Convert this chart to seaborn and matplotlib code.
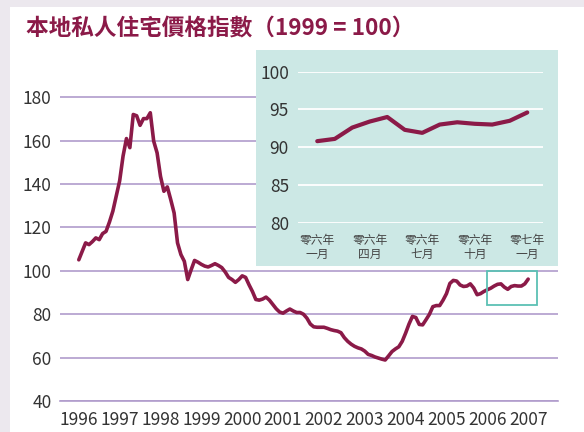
import matplotlib
matplotlib.use("Agg")
import matplotlib.pyplot as plt
from matplotlib.patches import Rectangle
import seaborn as sns
import numpy as np
import pandas as pd

# monthly index, Jan 1996 - Jan 2007
index_1996_2000 = [105.1, 109.0, 112.9, 112.1, 113.5, 115.2, 114.4, 117.2, 118.2, 122.5, 127.5, 134.5,
                   141.5, 152.9, 161.0, 156.8, 172.1, 171.5, 167.1, 170.2, 170.2, 172.9, 159.8, 154.4,
                   143.6, 136.7, 138.7, 132.9, 126.7, 112.9, 107.5, 104.4, 96.0, 100.5, 104.8, 104.0,
                   103.0, 102.2, 101.8, 102.5, 103.3, 102.5, 101.5, 99.5, 97.0, 96.0, 94.7, 96.0,
                   97.7, 97.0, 93.6, 90.5, 86.8, 86.5, 87.0, 87.9, 86.5, 84.5, 82.5, 81.0]
index_2001_2007 = [80.5, 81.5, 82.4, 81.5, 80.8, 80.8, 80.0, 78.2, 75.5, 74.2, 74.0, 74.0,
                   74.0, 73.5, 72.9, 72.5, 72.2, 71.5, 69.2, 67.5, 66.2, 65.2, 64.5, 64.0,
                   63.0, 61.5, 61.0, 60.3, 59.8, 59.3, 58.9, 60.8, 62.8, 64.0, 65.0, 67.5,
                   71.3, 75.5, 79.0, 78.5, 75.3, 75.1, 77.5, 80.0, 83.5, 84.0, 84.0, 86.5,
                   89.5, 94.2, 95.6, 95.3, 93.5, 92.8, 93.0, 94.0, 92.1, 89.0, 89.5, 90.5,
                   91.3, 92.0, 93.0, 93.8, 94.0, 92.5, 91.5, 92.8, 93.2, 93.0, 93.0, 94.0, 96.2]

# inset: Jan 2006 - Jan 2007
inset_values = [90.8, 91.1, 92.6, 93.4, 94.0, 92.3, 91.9, 93.0, 93.3, 93.1, 93.0, 93.5, 94.6]
inset_ticklabels = ["零六年\n一月", "零六年\n四月", "零六年\n七月", "零六年\n十月", "零七年\n一月"]

years = list(range(1996, 2008))
title = "本地私人住宅價格指數（1999 = 100）"

values = index_1996_2000 + index_2001_2007
df = pd.DataFrame({"t": 1996 + np.arange(len(values)) / 12, "v": values})
df_in = pd.DataFrame({"m": np.arange(len(inset_values)), "v": inset_values})

sns.set_style("white")
plt.rcParams['font.family'] = ['Noto Sans CJK TC', 'DejaVu Sans']

maroon = '#8b1a48'
purple = '#b09ccc'
teal_bg = '#cce8e5'
txt = '#333333'

fig = plt.figure(figsize=(5.84, 4.32), dpi=100)
fig.patch.set_facecolor('#ece8ee')
fig.add_artist(Rectangle((10 / 584, 0), 1, 1 - 7 / 432, transform=fig.transFigure,
                         facecolor='white', edgecolor='none', zorder=0))

fig.text(26 / 584, 1 - 29 / 432, title, fontsize=16.3, fontweight='bold', color=maroon, va='center')

# main chart
ax = fig.add_axes([60 / 584, 1 - 401 / 432, 498 / 584, (401 - 80) / 432])
ax.set_facecolor('none')
sns.lineplot(data=df, x="t", y="v", ax=ax, color=maroon, linewidth=2.6, zorder=3)
ax.set_xlim(1995.54, 2007.73)
ax.set_ylim(40, 188)
ax.set_yticks(range(40, 181, 20))
ax.set_xticks(years)
ax.set_xticklabels([str(y) for y in years])
ax.grid(axis='y', color=purple, linewidth=1.2)
ax.grid(axis='x', visible=False)
for s in ['top', 'right', 'left']:
    ax.spines[s].set_visible(False)
ax.spines['bottom'].set_color(purple)
ax.spines['bottom'].set_linewidth(1.2)
ax.tick_params(axis='x', colors=purple, length=5, width=1.2, labelcolor=txt, labelsize=12.5, pad=2)
ax.tick_params(axis='y', length=0, labelcolor=txt, labelsize=12.5, pad=6)
ax.set_xlabel(None)
ax.set_ylabel(None)
ax.add_patch(Rectangle((2005.99, 84.3), 1.22, 15.7, facecolor='none',
                       edgecolor='#5cc0b4', linewidth=1.3, zorder=4))

# inset panel
fig.add_artist(Rectangle((256 / 584, 1 - 266 / 432), (558 - 256) / 584, (266 - 50) / 432,
                         transform=fig.transFigure, facecolor=teal_bg, edgecolor='none', zorder=2))
axi = fig.add_axes([298 / 584, 1 - 222.7 / 432, 245 / 584, (222.7 - 71.7) / 432])
axi.set_zorder(5)
axi.set_facecolor('none')
sns.lineplot(data=df_in, x="m", y="v", ax=axi, color=maroon, linewidth=3, clip_on=False)
axi.set_xlim(-1.1, 12.9)
axi.set_ylim(80, 100)
axi.set_yticks(range(80, 101, 5))
axi.set_xticks(range(0, 13, 3))
axi.set_xticklabels(inset_ticklabels, linespacing=1.1)
axi.grid(axis='y', color='white', linewidth=1.3)
axi.grid(axis='x', visible=False)
for s in ['top', 'right', 'left', 'bottom']:
    axi.spines[s].set_visible(False)
axi.tick_params(axis='x', colors='white', length=5, width=1.3, labelcolor='#444444', labelsize=8.5, pad=3)
axi.tick_params(axis='y', colors='white', length=3, labelcolor=txt, labelsize=12.5)
axi.set_xlabel(None)
axi.set_ylabel(None)

fig.savefig("out.png", dpi=100, facecolor=fig.get_facecolor())
